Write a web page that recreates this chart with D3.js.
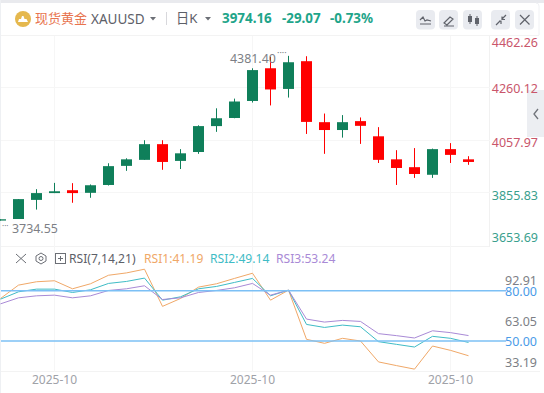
<!DOCTYPE html>
<html><head><meta charset="utf-8">
<script src="https://cdn.jsdelivr.net/npm/d3@7/dist/d3.min.js"></script>
<style>html,body{margin:0;padding:0;background:#fff}svg{display:block}text{font-family:"Noto Sans","Noto Sans CJK SC",sans-serif}</style>
</head><body><svg id="c" width="544" height="393"></svg>
<script>
const opens  =[3752,3758,3831,3857,3868,3858,3888,3961,3984,4044,3980,4014,4113,4144,4209,4334,4255,4361,4128,4098,4132,4074,3986,3956,3927,4025,3986];
const highs  =[3757,3834,3872,3896,3895,3890,3971,3990,4059,4059,4025,4116,4181,4218,4334,4378,4381.4,4380,4161,4155,4146,4109,4021,4029,4027,4048,3998];
const lows   =[3752,3758,3794,3857,3820,3839,3886,3942,3984,3946,3949,4007,4091,4143,4203,4192,4222,4083,4007,4069,4045,3972,3888,3915,3915,3972,3965];
const closes =[3757,3834,3857,3864,3857,3887,3960,3986,4044,3976,4009,4113,4143,4207,4327,4253,4357,4129,4098,4128,4114,3984,3953,3930,4025,4003,3976];
const rsi1=[75.4,83.4,85.4,86,81.2,84.2,89.3,90.7,92.91,70.7,75.4,82.2,84.2,87.4,90.5,74.4,80.4,51,48.6,51.6,50,37.5,35.3,33.19,47,44.4,41.19];
const rsi2=[75,79.4,81,81,79,80.6,84.4,85.6,87.6,74.4,76.4,81.2,82.6,85,87.4,77,80.4,59.9,58.1,59.5,58.5,49.6,48,46.4,52.8,51.6,49.14];
const rsi3=[72.2,75.8,77,77.4,75.8,77,80.2,81.2,83,74.8,75.8,79,80.2,81.8,84.4,77.4,80.4,63.1,61.3,62.3,61.7,54.4,53.2,51.8,56.1,55,53.24];
const priceTicks=[4260.12,4057.97,3855.83];
const priceLabels=["4462.26","4260.12","4057.97","3855.83","3653.69"];
const rsiLevels=[80,50];
const dateLabels=["2025-10","2025-10","2025-10"];
const dateIdx=[3,14,25];

const svg=d3.select("#c");
const x=d3.scaleLinear().domain([0,26]).range([0.5,468.5]);
const y=d3.scaleLinear().domain([4057.97,3855.83]).range([140.5,193.4]);
const r=d3.scaleLinear().domain([80,50]).range([290.8,341]);
const GREEN="#0f7f5a",RED="#ff0000",GRID="#f6f6f6";

// frame
svg.append("rect").attr("width",544).attr("height",3).attr("fill","#e9eaee");
svg.append("rect").attr("y",0).attr("width",1).attr("height",393).attr("fill","#eef0f3");
svg.append("path").attr("d","M536 3q3 0 3 3v29").attr("fill","none").attr("stroke","#f0f1f4");
[[35.5,539],[246.5,490],[371.5,540]].forEach(([v,e])=>svg.append("line").attr("x1",1).attr("x2",e).attr("y1",v).attr("y2",v).attr("stroke","#f3f3f3"));
svg.append("line").attr("x1",489.5).attr("x2",489.5).attr("y1",36).attr("y2",247).attr("stroke","#f1f1f1");
// grid
priceTicks.forEach(p=>svg.append("line").attr("x1",1).attr("x2",490).attr("y1",Math.round(y(p))-.5).attr("y2",Math.round(y(p))-.5).attr("stroke",GRID));
dateIdx.forEach(i=>svg.append("line").attr("x1",x(i)).attr("x2",x(i)).attr("y1",36).attr("y2",372).attr("stroke",GRID));

// candles
const idx=d3.range(opens.length);
const g=svg.append("g");
idx.forEach(i=>{
  const c=closes[i]>=opens[i]?GREEN:RED;
  g.append("line").attr("x1",x(i)).attr("x2",x(i)).attr("y1",y(highs[i])).attr("y2",y(lows[i])).attr("stroke",c).attr("stroke-width",1);
  const t=y(Math.max(opens[i],closes[i])),b=y(Math.min(opens[i],closes[i]));
  g.append("rect").attr("x",x(i)-5.5).attr("y",t).attr("width",11).attr("height",Math.max(1,b-t)).attr("fill",c);
});
// hi / lo labels
const GREYT="#7d7f86";
svg.append("text").attr("x",230).attr("y",63).attr("font-size",12.4).attr("fill",GREYT).text("4381.40");
svg.append("text").attr("x",277).attr("y",56).attr("font-size",9).attr("fill",GREYT).text("····");
svg.append("text").attr("x",2).attr("y",229).attr("font-size",8).attr("fill",GREYT).text("···");
svg.append("text").attr("x",12).attr("y",233).attr("font-size",12.4).attr("fill",GREYT).text("3734.55");

// collapse tab (under the price labels)
svg.append("rect").attr("x",527).attr("y",90).attr("width",17).attr("height",47).attr("fill","#eceef2");
svg.append("path").attr("d","M538 109l-4 5 4 5").attr("stroke","#70737a").attr("stroke-width",1.3).attr("fill","none");

// price labels
const labelY=[47,93,147,200,242];
const labelCol=["#c9566b","#c9566b","#c9566b","#3a9f8e","#3a9f8e"];
priceLabels.forEach((t,i)=>svg.append("text").attr("x",538).attr("y",labelY[i]).attr("text-anchor","end").attr("font-size",12.5).attr("fill",labelCol[i]).text(t));

// RSI
const line=d3.line().x((d,i)=>x(i)).y(d=>r(d));
[[rsi1,"#f0a868"],[rsi2,"#3fbcc6"],[rsi3,"#a98ad6"]].forEach(([d,c])=>svg.append("path").attr("d",line(d)).attr("fill","none").attr("stroke",c).attr("stroke-width",1));
rsiLevels.forEach(v=>svg.append("line").attr("x1",1).attr("x2",506).attr("y1",r(v)).attr("y2",r(v)).attr("stroke","#7cc0f5").attr("stroke-width",1.5));
[["92.91",284.5,GREYT],["80.00",296,"#4a9be8"],["63.05",326,GREYT],["50.00",346,"#4a9be8"],["33.19",367,GREYT]].forEach(([t,yy,c])=>svg.append("text").attr("x",537).attr("y",yy).attr("text-anchor","end").attr("font-size",12.5).attr("fill",c).text(t));
dateIdx.forEach((i,k)=>svg.append("text").attr("x",x(i)).attr("y",384).attr("text-anchor","middle").attr("font-size",12).attr("fill","#a0a2a8").text(dateLabels[k]));

// RSI legend
const lg=[["RSI(7,14,21)",69,"#5d6068"],["RSI1:41.19",144,"#f0a868"],["RSI2:49.14",210,"#3fbcc6"],["RSI3:53.24",276,"#a98ad6"]];
lg.forEach(([t,xx,c])=>svg.append("text").attr("x",xx).attr("y",263).attr("font-size",12.1).attr("fill",c).text(t));
const ic=svg.append("g").attr("stroke","#6c6f76").attr("fill","none").attr("stroke-width",1);
ic.append("path").attr("d","M16 254L26 263M26 254L16 263");
ic.append("path").attr("d","M41 253l5 3v5l-5 3l-5-3v-5z"); ic.append("circle").attr("cx",41).attr("cy",258.5).attr("r",2);
ic.append("rect").attr("x",55.5).attr("y",253.5).attr("width",10).attr("height",10);
ic.append("path").attr("d","M58 258.5h5M60.5 256v5");

// Header
svg.append("circle").attr("cx",23).attr("cy",19).attr("r",8).attr("fill","#e5b84e");
svg.append("path").attr("d","M18 22h10l-1.5-3h-2l-1-3h-1.5l-1 3h-2z").attr("fill","#fff");
svg.append("text").attr("x",35).attr("y",22.5).attr("font-size",13).attr("fill","#e8744e").text("现货黄金");
svg.append("text").attr("x",91).attr("y",24).attr("font-size",13.5).attr("fill","#5d6068").text("XAUUSD");
svg.append("path").attr("d","M150 17h6l-3 3.5z").attr("fill","#6c6f76");
svg.append("line").attr("x1",166.5).attr("x2",166.5).attr("y1",12).attr("y2",25).attr("stroke","#d8d8dc");
svg.append("text").attr("x",176).attr("y",23).attr("font-size",13.2).attr("fill","#5d6068").text("日K");
svg.append("path").attr("d","M205 17h6l-3 3.5z").attr("fill","#6c6f76");
[["3974.16",222],["-29.07",282],["-0.73%",330]].forEach(([t,xx])=>svg.append("text").attr("x",xx).attr("y",23).attr("font-size",13.4).attr("font-weight",700).attr("fill","#1fa58a").text(t));
// toolbar
[416,439,463,491,515].forEach(xx=>svg.append("rect").attr("x",xx).attr("y",10).attr("width",19).attr("height",19.5).attr("rx",4).attr("fill","#e9ebf0"));
const tb=svg.append("g").attr("stroke","#60636b").attr("fill","none").attr("stroke-width",1.2);
tb.append("path").attr("d","M420 20l3-3 2 4 2-1 4 1M420 24h11");
tb.append("path").attr("d","M444 23l6-6 3 2-6 6zM444 26h10");
tb.append("path").attr("d","M470 14v10M477 16v10").attr("stroke-width",1);
svg.append("rect").attr("x",468).attr("y",16).attr("width",4).attr("height",6).attr("fill","#60636b");
svg.append("rect").attr("x",475).attr("y",18).attr("width",4).attr("height",6).attr("fill","#60636b");
tb.append("path").attr("d","M496 25l4-4M499 21h2.5M501 24v-3M506 15l-4 4M502 16.5v3h3");
tb.append("path").attr("d","M520 15l9.5 9.5M529.5 15l-9.5 9.5");
</script></body></html>
